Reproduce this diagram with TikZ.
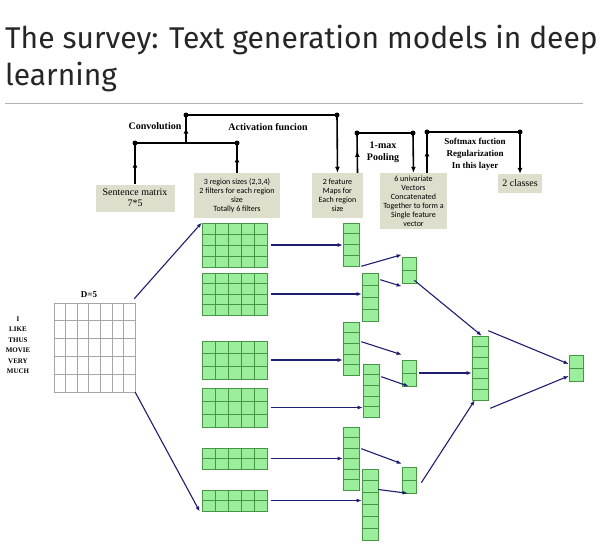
\documentclass[tikz,border=0pt]{standalone}
\usepackage{fontspec}
\setmainfont{Liberation Serif}
\newfontfamily\titlef{Fira Sans}
\newfontfamily\boxf{Carlito}
\usetikzlibrary{arrows.meta,fit,decorations.markings,calc}
\definecolor{navy}{RGB}{30,30,110}
\definecolor{gfill}{RGB}{155,238,155}
\definecolor{gline}{RGB}{70,150,70}
\definecolor{beige}{RGB}{222,222,204}
\tikzset{
 gb/.style={draw=gline,fill=gfill,inner sep=0pt,line width=0.6pt},
 arr/.style={navy,line width=1.1pt,-{Latex[length=5pt,width=4pt]}},
 lbl/.style={beige,fill=beige,text=black,inner sep=2pt,align=center,font=\boxf\fontsize{8}{9}\selectfont},
 br/.style={line width=1.6pt,black},
 dot/.style={circle,fill=black,inner sep=0pt,minimum size=5pt},
 upm/.style={postaction={decorate},decoration={markings,mark=at position 0.55 with {\arrow{Latex[length=6pt,width=5pt]}}}},
 hd/.style={font=\bfseries\fontsize{10}{12}\selectfont,align=center}
}
\newcommand\gblock[7]{%
 \node[gb,fit={(#2,#3)(#4,#5)}] (#1) {};
 \foreach \k in {1,...,#6}{\ifnum\k<#6\draw[gline,line width=0.6pt] ($(#1.south west)!\k/#6!(#1.south east)$) -- ($(#1.north west)!\k/#6!(#1.north east)$);\fi}
 \foreach \k in {1,...,#7}{\ifnum\k<#7\draw[gline,line width=0.6pt] ($(#1.north west)!\k/#7!(#1.south west)$) -- ($(#1.north east)!\k/#7!(#1.south east)$);\fi}
}
\begin{document}
\begin{tikzpicture}[x=1pt,y=-1pt]
\useasboundingbox (0,0) rectangle (602,549);
\fill[white] (0,0) rectangle (602,549);
% title
\node[anchor=west,font=\titlef\fontsize{30}{34}\selectfont,inner sep=0,text=black!85] (t1) at (5,40) {The survey: Text generation models in deep};
\node[anchor=west,font=\titlef\fontsize{30}{34}\selectfont,inner sep=0,text=black!85] (t2) at (5,77) {learning};
\draw[gray!60,line width=0.8pt] (5,103) -- (583,103);
% sentence matrix
\node[draw=gray!70,inner sep=0,fit={(54,303)(135,392)}] (sm) {};
\foreach \k in {1,...,6}{\draw[gray!70] ($(sm.north west)!\k/7!(sm.north east)$) -- ($(sm.south west)!\k/7!(sm.south east)$);}
\foreach \k in {1,...,4}{\draw[gray!70] ($(sm.north west)!\k/5!(sm.south west)$) -- ($(sm.north east)!\k/5!(sm.south east)$);}
\node[font=\bfseries\fontsize{9}{10}\selectfont] (d5) at (89,295) {D=5};
\node[font=\bfseries\fontsize{7}{10.5}\selectfont,align=center] (words) at (18,345) {I\\LIKE\\THUS\\MOVIE\\VERY\\MUCH};
% filters
\gblock{f1}{202}{223}{267}{267}{5}{4}
\gblock{f2}{202}{273}{267}{315}{5}{4}
\gblock{f3}{202}{341}{267}{379}{5}{3}
\gblock{f4}{202}{388}{267}{427}{5}{3}
\gblock{f5}{202}{448}{267}{469}{5}{2}
\gblock{f6}{202}{490}{267}{511}{5}{2}
% feature maps
\gblock{m1}{343}{223}{359}{266}{1}{4}
\gblock{m2}{362}{273}{378}{321}{1}{4}
\gblock{m3}{343}{322}{359}{375}{1}{5}
\gblock{m4}{363}{364}{379}{417}{1}{5}
\gblock{m5}{343}{427}{359}{490}{1}{6}
\gblock{m6}{362}{469}{378}{540}{1}{6}
% pooled
\gblock{p1}{402}{257}{416}{283}{1}{2}
\gblock{p2}{402}{360}{416}{386}{1}{2}
\gblock{p3}{402}{467}{416}{493}{1}{2}
\gblock{cc}{472}{336}{488}{400}{1}{6}
\gblock{out}{569}{355}{583}{381}{1}{2}
% arrows
\draw[arr] ([xshift=-1pt,yshift=4pt]sm.north east) -- (f1.north west);
\draw[arr] (sm.south east) -- ([xshift=-2pt,yshift=-11pt]f6.west);
\draw[arr] ([xshift=4pt]f1.east) -- (m1.west|-f1.east);
\draw[arr] ([xshift=4pt]f2.east) -- (m2.west|-f2.east);
\draw[arr] ([xshift=4pt]f3.east) -- (m3.west|-f3.east);
\draw[arr] ([xshift=4pt]f4.east) -- (m4.west|-f4.east);
\draw[arr] ([xshift=4pt]f5.east) -- (m5.west|-f5.east);
\draw[arr] ([xshift=4pt]f6.east) -- (m6.west|-f6.east);
\draw[arr] ([xshift=2pt,yshift=0pt]m1.south east) -- ([yshift=2pt]p1.north west);
\draw[arr] ([xshift=2pt,yshift=-7pt]m2.north east) -- ([yshift=-3pt]p1.south west);
\draw[arr] ([xshift=2pt,yshift=-20pt]m3.north east) -- ([yshift=5pt]p2.north west);
\draw[arr] ([xshift=2pt,yshift=-13pt]m4.north east) -- ([xshift=7pt]p2.south west);
\draw[arr] ([xshift=2pt,yshift=-22pt]m5.north east) -- ([yshift=3pt]p3.north west);
\draw[arr] ([xshift=0pt,yshift=15pt]m6.east) -- ([xshift=6pt]p3.south west);
\draw[arr] ([xshift=-2pt,yshift=3pt]p1.south east) -- ([xshift=10pt]cc.north west);
\draw[arr] ([xshift=3pt]p2.east) -- (cc.west|-p2.east);
\draw[arr] ([xshift=5pt,yshift=-16pt]p3.north east) -- ([xshift=3pt]cc.south west);
\draw[arr] ([yshift=5pt]cc.north east) -- (out.west|-364,364);
\draw[arr] ([xshift=2pt,yshift=-8pt]cc.south east) -- (out.west|-376,376);
% top label boxes
\node[lbl,font=\fontsize{10}{11}\selectfont,minimum width=79pt,minimum height=27pt] (bsm) at (135,198) {Sentence matrix\\7*5};
\node[lbl,minimum width=86pt,minimum height=45pt] (bf) at (237,195.5) {3 region sizes (2,3,4)\\2 filters for each region\\size\\Totally 6 filters};
\node[lbl,minimum width=51pt,minimum height=45pt] (bm) at (337.5,195.5) {2 feature\\Maps for\\Each region\\size};
\node[lbl,minimum width=67pt,minimum height=56pt] (bv) at (413.5,201) {6 univariate\\Vectors\\Concatenated\\Together to form a\\Single feature\\vector};
\node[lbl,font=\fontsize{10}{11}\selectfont,minimum width=44pt,minimum height=19pt] (bc) at (520,183.5) {2 classes};
% brackets
\coordinate (c1) at (135,143); \coordinate (c2) at (237,143); \coordinate (c3) at (186,143);
\coordinate (c4) at (186,115); \coordinate (c5) at (337,115);
\draw[br,upm] (bsm.north) -- (c1);
\draw[br,upm] (bf.north) -- (c2);
\draw[br] (c1) -- (c2);
\draw[br,upm] (c3) -- (c4);
\draw[br] (c4) -- (c5);
\draw[br,-{Latex[length=6pt,width=5pt]}] (c5) -- (bm.north);
\foreach \c in {c1,c2,c4,c5}{\node[dot] at (\c) {};}
\node[hd] (conv) at (155,126) {Convolution};
\node[hd] (act) at (268,127) {Activation funcion};
\coordinate (q1) at (357,133); \coordinate (q2) at (413,133);
\draw[br,upm] ([xshift=20pt]bm.north) -- (q1);
\draw[br] (q1) -- (q2);
\draw[br,-{Latex[length=6pt,width=5pt]}] (q2) -- (bv.north);
\foreach \c in {q1,q2}{\node[dot] at (\c) {};}
\node[hd] (pool) at (383,152) {1-max\\Pooling};
\coordinate (s1) at (427,132); \coordinate (s2) at (520,132);
\draw[br,upm] ([xshift=13.5pt]bv.north) -- (s1);
\draw[br] (s1) -- (s2);
\draw[br,-{Latex[length=6pt,width=5pt]}] (s2) -- (bc.north);
\foreach \c in {s1,s2}{\node[dot] at (\c) {};}
\node[hd,font=\bfseries\fontsize{9}{12}\selectfont] (soft) at (475,154) {Softmax fuction\\Regularization\\In this layer};
\end{tikzpicture}
\end{document}
